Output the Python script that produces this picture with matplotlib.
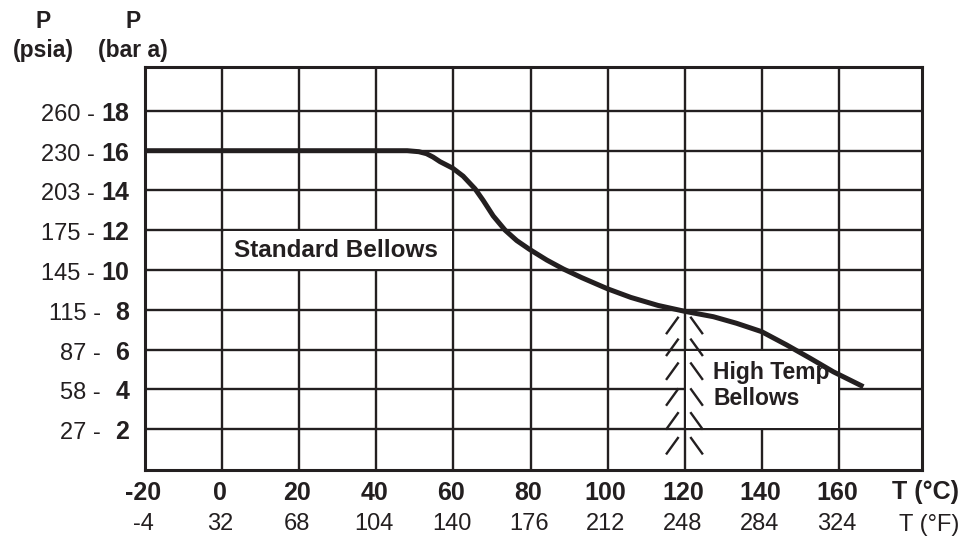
import matplotlib
matplotlib.use("Agg")
import matplotlib.pyplot as plt
from matplotlib.patches import Rectangle

plt.rcParams['font.family'] = ['Liberation Sans', 'DejaVu Sans']

# ---- data ----
temp_c = [-20, 0, 20, 40, 60, 80, 100, 120, 140, 160]
temp_f = ["-4", "32", "68", "104", "140", "176", "212", "248", "284", "324"]
bar_ticks = [2, 4, 6, 8, 10, 12, 14, 16, 18]
psia_ticks = ["27", "58", "87", "115", "145", "175", "203", "230", "260"]

curve_t = [-20, 40, 48, 51, 53, 54.7, 56.5, 59.8, 62.5, 65.6, 67.7, 70.3, 73.4,
           76.4, 79.7, 84.2, 88.5, 93.2, 100, 106, 113, 120, 127.4,
           133.4, 139.9, 146.4, 152.5, 158.5, 166.3]
curve_p = [16, 16, 16, 15.95, 15.85, 15.68, 15.45, 15.12, 14.72, 14.08, 13.5, 12.72, 12.0,
           11.48, 11.04, 10.5, 10.05, 9.62, 9.05, 8.62, 8.22, 7.92, 7.65,
           7.32, 6.9, 6.23, 5.56, 4.88, 4.13]

hatch_t = 120
hatch_tops = [7.6, 6.5, 5.3, 4.0, 2.8, 1.55]

ink = "#231f20"

fig = plt.figure(figsize=(9.64, 5.38), dpi=100)
W, H = 964, 538
ax = fig.add_axes([145 / W, (H - 470) / H, (922 - 145) / W, (470 - 67) / H])
ax.set_xlim(-20, 181.5)
ax.set_ylim(-0.06, 20.21)
ax.set_xticks([])
ax.set_yticks([])
for s in ax.spines.values():
    s.set_linewidth(2.2)
    s.set_color(ink)

# grid
for t in temp_c[1:]:
    ax.axvline(t, color=ink, lw=1.7, zorder=1)
for p in bar_ticks:
    ax.axhline(p, color=ink, lw=1.7, zorder=1)

# white boxes behind labels
ax.add_patch(Rectangle((0.4, 10.06), 59.2, 1.88, facecolor="white", edgecolor="none", zorder=2))
ax.add_patch(Rectangle((120.4, 2.06), 39.2, 3.88, facecolor="white", edgecolor="none", zorder=2))

# curve
ax.plot(curve_t, curve_p, color=ink, lw=3.6, solid_capstyle="butt",
        solid_joinstyle="round", zorder=4)

# hatch marks at 120 C
for top in hatch_tops:
    ax.plot([hatch_t - 1.8, hatch_t - 4.7], [top, top - 0.78], color=ink, lw=1.7, zorder=3)
    ax.plot([hatch_t + 1.6, hatch_t + 4.5], [top, top - 0.78], color=ink, lw=1.7, zorder=3)

ax.text(29.5, 11.0, "Standard Bellows", fontsize=17.5, fontweight="bold",
        color=ink, ha="center", va="center", zorder=3)
ax.text(127.3, 4.2, "High Temp\nBellows", fontsize=16.5, fontweight="bold",
        color=ink, ha="left", va="center", linespacing=1.15, zorder=3)

px = 0.72  # points per pixel at dpi 100

# x tick labels
for t, f in zip(temp_c, temp_f):
    ax.annotate(str(t), xy=(t, 0), xycoords=("data", "axes fraction"),
                xytext=(-2 * px, -23 * px), textcoords="offset points",
                ha="center", va="center", fontsize=18, fontweight="bold", color=ink)
    ax.annotate(f, xy=(t, 0), xycoords=("data", "axes fraction"),
                xytext=(-2 * px, -54 * px), textcoords="offset points",
                ha="center", va="center", fontsize=17, color=ink)

fig.text(926 / W, 1 - 492 / H, "T (°C)", fontsize=18, fontweight="bold",
         color=ink, ha="center", va="center")
fig.text(929 / W, 1 - 525 / H, "T (°F)", fontsize=17, color=ink,
         ha="center", va="center")

# y tick labels
for p, ps in zip(bar_ticks, psia_ticks):
    ax.annotate(str(p), xy=(0, p), xycoords=("axes fraction", "data"),
                xytext=(-16 * px, -3 * px), textcoords="offset points",
                ha="right", va="center", fontsize=18, fontweight="bold", color=ink)
    off = -50 if p >= 10 else -44
    ax.annotate(ps + " -", xy=(0, p), xycoords=("axes fraction", "data"),
                xytext=(off * px, -4 * px), textcoords="offset points",
                ha="right", va="center", fontsize=17, color=ink)

# axis headers
for x, lbl in [(43, "(psia)"), (133, "(bar a)")]:
    fig.text(x / W, 1 - 22 / H, "P", fontsize=16.5, fontweight="bold",
             color=ink, ha="center", va="center")
    fig.text(x / W, 1 - 51 / H, lbl, fontsize=16.5, fontweight="bold",
             color=ink, ha="center", va="center")

fig.savefig("out.png", dpi=100)
